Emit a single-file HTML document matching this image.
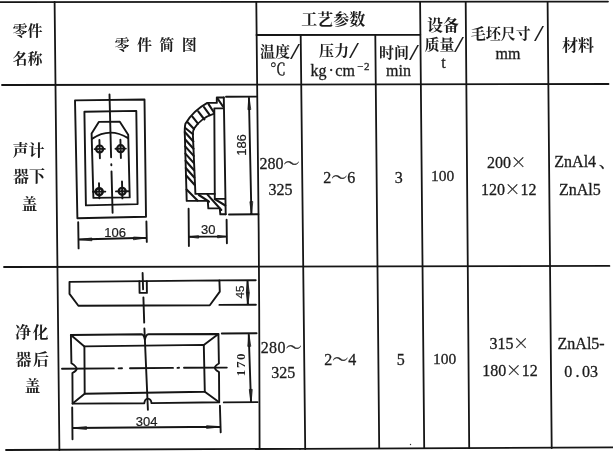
<!DOCTYPE html>
<html lang="zh">
<head>
<meta charset="utf-8">
<title>工艺参数</title>
<style>
html,body{margin:0;padding:0;background:#fff;}
body{width:613px;height:452px;position:relative;overflow:hidden;font-family:"Liberation Serif","Noto Serif CJK SC",serif;color:#1c1c1c;}
#page{position:absolute;left:0;top:0;width:613px;height:452px;filter:blur(0.4px);}
svg{position:absolute;left:0;top:0;}
.t{position:absolute;white-space:nowrap;line-height:1;font-size:16px;}
.c{font-size:15px;font-weight:700;}
.n{font-size:16px;-webkit-text-stroke:0.3px #1c1c1c;}
.d{font-family:"Liberation Sans","Noto Sans CJK SC",sans-serif;font-size:13px;-webkit-text-stroke:0.22px #1c1c1c;}
.s{display:inline-block;transform:scale(2.4,1.5);transform-origin:0 52%;margin-left:0px;font-family:"Liberation Serif",serif;font-weight:normal}
.x{font-family:"Noto Serif CJK SC",serif;margin:0 0 0 -0.5px}
.rot{transform:translate(-50%,-50%) rotate(-90deg);}
</style>
</head>
<body>
<div id="page">
<svg width="613" height="452" viewBox="0 0 613 452" fill="none" stroke="#151515" stroke-width="1.9" stroke-linecap="round" stroke-linejoin="round">
<!-- table lines -->
<g id="grid" stroke-width="1.8">
<line x1="0" y1="2.2" x2="608" y2="1.6"/>
<line x1="256.5" y1="35" x2="420.3" y2="34.8"/>
<line x1="2" y1="85" x2="608.5" y2="84"/>
<line x1="4" y1="267" x2="609.4" y2="265.9"/>
<line x1="6" y1="450" x2="300" y2="448.8"/>
<line x1="300" y1="448.8" x2="613" y2="447.3"/>
<line x1="54.6" y1="2" x2="59.4" y2="450"/>
<polyline points="256.3,2 257.4,110 258.7,232 259.2,310 259.6,449"/>
<line x1="300.7" y1="35" x2="305.2" y2="449"/>
<line x1="375.3" y1="35" x2="379.2" y2="448"/>
<line x1="420.1" y1="2" x2="424.2" y2="448"/>
<line x1="465.7" y1="2" x2="469.2" y2="448"/>
<line x1="547.6" y1="2" x2="551.7" y2="448"/>
</g>
<!--DRAW-->
<!-- drawing 1 : plan view -->
<g id="d1a">
<path d="M75 100.4 L144.5 99.5 L146 216.8 L77.4 218.3 Z"/>
<path d="M84.4 111.7 L136.3 110.9 L137.6 204.1 L85.9 205.4 Z"/>
<path d="M98.8 121.9 L119.8 121.7 L128.2 134.8 L129.7 197.4 L93.4 197.9 L91.6 133.6 Z"/>
<path d="M91.9 138.9 Q109.7 126.8 128.1 138.1"/>
<path d="M109.5 94.5 L111.1 157.3 M111.3 164.3 L111.35 165.3 M111.5 171.4 L112.6 212.8"/>
<circle cx="99.6" cy="149" r="3.5" stroke-width="2.2"/><circle cx="120.6" cy="148.7" r="3.5" stroke-width="2.2"/>
<circle cx="99.2" cy="191.7" r="3.5" stroke-width="2.5"/><circle cx="122.2" cy="191.3" r="3.5" stroke-width="2.3"/>
<path d="M99.4 140 L99.9 158.2 M94.6 149.1 L104.8 148.9 M120.4 139.8 L120.9 158 M115.5 148.8 L125.8 148.6"/>
<path d="M99 183.2 L99.4 198.2 M93 191.8 L105.3 191.6 M122 181.5 L122.4 198.4 M116 191.4 L128.4 191.2"/>
<!-- dim 106 -->
<path d="M78.2 222.3 L78.6 248.4 M146.4 221.5 L146.8 241.9 M78.4 239.5 L146.6 237.8"/>
<path d="M78.6 239.5 L91.9 238 L91.9 240.4 Z M146.5 237.8 L133.5 237 L133.5 239.4 Z" fill="#222" stroke-width="0.8"/>
</g>
<!-- drawing 1 : section view -->
<g id="d1b">
<path d="M216.8 97.5 L223.8 97.5 M216.8 97.5 L216.8 102.9 L207.3 102.9 C199 107.5 190 116 185.4 123.8 C184.4 128 184.6 132 184.9 137 L186.7 200.9 L207.8 200.9 L208.3 208.4 L219.8 208.4 L220.3 214.3 L225.7 214.3"/>
<path d="M223.8 97.5 L225.7 214.3"/>
<path d="M214.3 108.4 L222.8 108.4 M214.3 108.4 L214.8 198.9 L225.2 198.9"/>
<path d="M213.6 113.9 C205 116.5 197.5 123 193.9 128.8 C192.8 131 192.8 133 192.9 135 L195.4 193.9 L214.8 193.9"/>
<!-- hatching -->
<path d="M217.6 98.6 L223 106.5 M208.4 103.9 L213.8 112.2 M204 107.2 L209.8 115.2 M198.2 111.4 L204.4 119.5 M192.4 116.6 L198 123.6 M187.6 122.2 L194 128.9 M185.3 128 L193 134.2 M184.8 132.0 L193.3 141.5 M185.0 139.2 L193.5 148.7 M185.2 146.39999999999998 L193.7 155.89999999999998 M185.4 153.59999999999997 L193.9 163.09999999999997 M185.6 160.79999999999995 L194.1 170.29999999999995 M185.8 167.99999999999994 L194.3 177.49999999999994 M186.0 175.19999999999993 L194.5 184.69999999999993 M186.6 189.5 L197.5 200.6 M198.9 195 L209 201.6 M207.5 194.6 L221.3 210 M214.8 199.2 L225.3 205.5" stroke-width="2.1"/>
<!-- dim 186 -->
<path d="M226 96.8 L256.6 96.6 M229 214.5 L258.4 214.2 M248.9 97 L251.4 214.3"/>
<path d="M248.9 97 L247.9 109.6 L250.4 109.5 Z M251.4 214.3 L249.9 201.7 L252.4 201.6 Z" fill="#222" stroke-width="0.8"/>
<!-- dim 30 -->
<path d="M188.6 208.7 L188.9 246.1 M226.6 219.7 L226.9 243.2 M188.8 236.8 L226.8 236.4"/>
<path d="M188.9 236.8 L198.5 235.7 L198.5 237.8 Z M226.7 236.4 L217.6 235.4 L217.6 237.5 Z" fill="#222" stroke-width="0.8"/>
</g>
<!-- drawing 2 : top (side) view -->
<g id="d2a">
<path d="M69.5 281.9 L219.4 280.4 L219.8 291.6 L209.8 305.2 L78.4 305.8 L69.5 293.9 Z"/>
<path d="M139.4 281.3 L139.6 292.9 L146.9 292.9 L146.8 281.2"/>
<path d="M142.6 273 L143.1 289.4 M143.4 297.4 L144.2 322.6"/>
<!-- dim 45 -->
<path d="M219.4 280.4 L255.7 280.2 M219.4 304.9 L255.9 304.7 M247.5 280.4 L247.8 304.8"/>
<path d="M247.5 280.6 L246.3 292.5 L248.9 292.5 Z M247.8 304.6 L246.4 292.7 L249 292.7 Z" fill="#222" stroke-width="0.8"/>
</g>
<!-- drawing 2 : plan view -->
<g id="d2b">
<path d="M70.9 335 L141.5 334.3 Q144 334.5 144.9 339.6 Q145.8 334.5 148.5 334.2 L218.4 334 L218.9 363.5 Q215 365.5 214.8 367.8 Q215.2 370 219 372 L219.2 402.3 L151.5 403.1 Q151 398.8 147.9 398.6 Q144.8 398.8 144.3 403.2 L72.6 403.6 L72.4 373 Q76.5 371 76.7 368.9 Q76.3 366.3 71.4 363.3 Z"/>
<path d="M84.4 346.4 L203.8 344.9 L204.8 391.8 L84.7 393.8 Z"/>
<path d="M70.9 335 L84.4 346.4 M218.4 334 L203.8 344.9 M219.2 402.3 L204.8 391.8 M72.6 403.6 L84.7 393.8"/>
<path d="M144.4 328.5 L147.9 409.8"/>
<path d="M62 368.8 L113.8 368.4 M118.6 368.35 L122 368.3 M130 368.2 L173 367.9 M177.5 367.85 L179 367.8 M184 367.8 L226.8 367.6"/>
<!-- dim 170 -->
<path d="M221.8 333.5 L256.6 333.2 M223.8 402.4 L257.6 402.1 M248.7 333.6 L251 402.2"/>
<path d="M248.7 333.8 L247.8 346.4 L250.4 346.3 Z M251 402.1 L249.3 389.5 L251.9 389.4 Z" fill="#222" stroke-width="0.8"/>
<!-- dim 304 -->
<path d="M72.2 407.4 L72.5 439.2 M219.9 405.7 L220.7 432.4 M72.4 428 L220.6 426.7"/>
<path d="M72.5 428 L86.5 426.7 L86.5 429.1 Z M220.6 426.7 L206.6 425.7 L206.6 428.1 Z" fill="#222" stroke-width="0.8"/>
</g>
<circle cx="410.5" cy="444.5" r="0.7" fill="#333" stroke="none"/>
<!--/DRAW-->
</svg>

<div class="t c" style="left:12.5px;top:24.3px">零件</div>
<div class="t c" style="left:12.5px;top:52px">名称</div>
<div class="t c" style="left:114.5px;top:38px;letter-spacing:7.4px">零件简图</div>
<div class="t c" style="left:301.2px;top:11.6px;font-size:16px">工艺参数</div>
<div class="t c" style="left:260px;top:44.5px">温度<span class="s">/</span></div>
<div class="t n" style="left:270px;top:62px">℃</div>
<div class="t c" style="left:319px;top:44px">压力<span class="s">/</span></div>
<div class="t n" style="left:310.5px;top:63px">kg<span style="margin:0 1.5px 0 2px">·</span>cm<sup style="font-size:11px;line-height:0;vertical-align:6.5px;letter-spacing:1px;margin-left:2px">−2</sup></div>
<div class="t c" style="left:379px;top:45.5px">时间<span class="s">/</span></div>
<div class="t n" style="left:386px;top:62.5px">min</div>
<div class="t c" style="left:427px;top:17.5px;font-size:16px">设备</div>
<div class="t c" style="left:424.5px;top:37.5px">质量<span class="s" style="margin-left:-1px">/</span></div>
<div class="t n" style="left:441.3px;top:55.3px">t</div>
<div class="t c" style="left:470.8px;top:26.7px">毛坯尺寸<span class="s" style="margin-left:3.2px">/</span></div>
<div class="t n" style="left:495.5px;top:46px">mm</div>
<div class="t c" style="left:562px;top:37.5px;font-size:16px">材料</div>

<div class="t c" style="left:12.5px;top:142.5px;font-size:16px">声计</div>
<div class="t c" style="left:13px;top:169.3px;font-size:16px">器下</div>
<div class="t c" style="left:21.5px;top:197px;font-size:16px">盖</div>
<div class="t n" style="left:259.6px;top:156px">280～</div>
<div class="t n" style="left:268.6px;top:182px">325</div>
<div class="t n" style="left:323.3px;top:169.5px">2～6</div>
<div class="t n" style="left:394.8px;top:170px">3</div>
<div class="t n" style="left:431.1px;top:168.2px;font-size:15.5px">100</div>
<div class="t n" style="left:487px;top:154px">200<span class="x">×</span></div>
<div class="t n" style="left:481px;top:180.8px">120<span class="x">×</span>12</div>
<div class="t n" style="left:554.3px;top:153.5px">ZnAl4<span style="margin-left:3px">、</span></div>
<div class="t n" style="left:559px;top:181.5px">ZnAl5</div>

<div class="t c" style="left:15px;top:325px;font-size:16px;letter-spacing:1.5px">净化</div>
<div class="t c" style="left:15.5px;top:352px;font-size:16px;letter-spacing:1.5px">器后</div>
<div class="t c" style="left:24.5px;top:378.5px;font-size:16px">盖</div>
<div class="t n" style="left:260.8px;top:340.2px;letter-spacing:0.3px">280～</div>
<div class="t n" style="left:271.2px;top:365.3px">325</div>
<div class="t n" style="left:324.3px;top:351.8px">2～4</div>
<div class="t n" style="left:396.7px;top:352.3px">5</div>
<div class="t n" style="left:433px;top:351.2px;font-size:15.5px">100</div>
<div class="t n" style="left:489.6px;top:335.4px">315<span class="x">×</span></div>
<div class="t n" style="left:482.3px;top:362.2px">180<span class="x">×</span>12</div>
<div class="t n" style="left:557.6px;top:336px">ZnAl5-</div>
<div class="t n" style="left:564.3px;top:363.5px">0<span style="margin:0 2.6px 0 3.2px">.</span>03</div>

<div class="t d" style="left:104.3px;top:226.2px">106</div>
<div class="t d" style="left:201px;top:222.5px">30</div>
<div class="t d" style="left:135.8px;top:415.4px;font-size:13px">304</div>
<div class="t d rot" style="left:241.4px;top:144.8px">186</div>
<div class="t d rot" style="left:240.6px;top:292.1px;font-size:11.5px">45</div>
<div class="t rot" style="left:239.8px;top:364.3px;font-size:13px;font-weight:bold;letter-spacing:1.6px">170</div>
</div>
</body>
</html>
